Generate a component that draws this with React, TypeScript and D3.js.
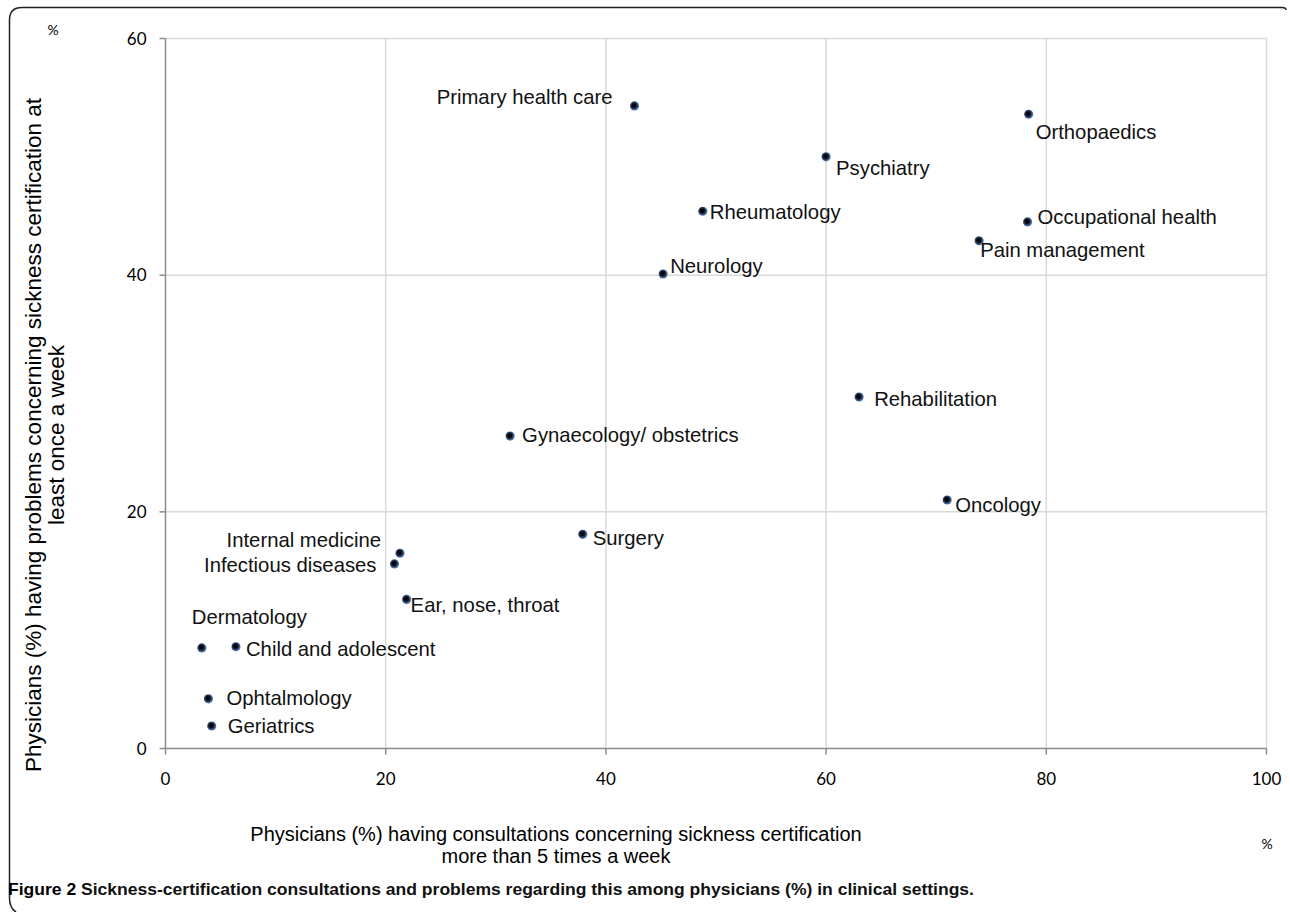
import { scaleLinear } from "d3";

// specialities
const specialties = [
  "Primary health care",
  "Orthopaedics",
  "Psychiatry",
  "Rheumatology",
  "Occupational health",
  "Pain management",
  "Neurology",
  "Rehabilitation",
  "Gynaecology/ obstetrics",
  "Oncology",
  "Surgery",
  "Internal medicine",
  "Infectious diseases",
  "Ear, nose, throat",
  "Dermatology",
  "Child and adolescent",
  "Ophtalmology",
  "Geriatrics",
];
// % having consultations > 5 times a week
const consultations = [42.6, 78.4, 60.0, 48.8, 78.3, 73.9, 45.2, 63.0, 31.3, 71.0, 37.9, 21.3, 20.8, 21.9, 3.3, 6.4, 3.9, 4.2];
// % having problems at least once a week
const problems = [54.3, 53.6, 50.0, 45.4, 44.5, 42.9, 40.1, 29.7, 26.4, 21.0, 18.1, 16.5, 15.6, 12.6, 8.5, 8.6, 4.2, 1.9];

const xTicks = [0, 20, 40, 60, 80, 100];
const yTicks = [0, 20, 40, 60];

// label placement next to each dot: [dx, dy, anchor]
const labelPlace: [number, number, string][] = [
  [-22, -2, "end"],
  [7, 25, "start"],
  [10, 18, "start"],
  [7, 8, "start"],
  [10, 2, "start"],
  [1, 16, "start"],
  [7, -1, "start"],
  [15, 9, "start"],
  [12, 6, "start"],
  [8, 12, "start"],
  [10, 11, "start"],
  [-19, -6, "end"],
  [-18, 8, "end"],
  [4, 13, "start"],
  [-10, -24, "start"],
  [10, 9, "start"],
  [18, 6, "start"],
  [16, 7, "start"],
];

const W = 1290;
const H = 912;
const left = 165.5;
const right = 1266.5;
const top = 38.5;
const bottom = 748.5;

const x = scaleLinear().domain([0, 100]).range([left, right]);
const y = scaleLinear().domain([0, 60]).range([bottom, top]);

const labelFont = "'Liberation Sans', Arial, sans-serif";
const tickFont = "Lato, 'Open Sans', sans-serif";

export default function App() {
  return (
    <svg
      width={W}
      height={H}
      style={{ position: "absolute", left: 0, top: 0, background: "#fff" }}
    >
      <defs>
        <radialGradient id="dot" cx="45%" cy="45%" r="55%">
          <stop offset="0%" stopColor="#000" />
          <stop offset="40%" stopColor="#0a0a14" />
          <stop offset="100%" stopColor="#5a8bc8" />
        </radialGradient>
      </defs>

      {/* frame */}
      <path
        d="M1286,10 Q1286,7.5 1282,7.5 L22,7.5 Q9.5,7.5 9.5,20 L9.5,898 Q9.5,908 16,912"
        fill="none"
        stroke="#222"
        strokeWidth={1.5}
      />

      {/* grid */}
      {xTicks.slice(1).map((t) => (
        <line key={"gx" + t} x1={x(t)} x2={x(t)} y1={top} y2={bottom} stroke="#d9d9d9" strokeWidth={1.5} />
      ))}
      {yTicks.slice(1).map((t) => (
        <line key={"gy" + t} x1={left} x2={right} y1={y(t)} y2={y(t)} stroke="#d9d9d9" strokeWidth={1.5} />
      ))}

      {/* axes */}
      <line x1={left} x2={left} y1={top} y2={bottom} stroke="#8c8c8c" strokeWidth={1.5} />
      <line x1={left} x2={right} y1={bottom} y2={bottom} stroke="#8c8c8c" strokeWidth={1.5} />
      {yTicks.map((t) => (
        <g key={"yt" + t}>
          <line x1={left - 6} x2={left} y1={y(t)} y2={y(t)} stroke="#8c8c8c" strokeWidth={1.5} />
          <text x={left - 19} y={y(t) + 6} textAnchor="end" fontFamily={tickFont} fontSize={17} fill="#000">
            {t}
          </text>
        </g>
      ))}
      {xTicks.map((t) => (
        <g key={"xt" + t}>
          <line x1={x(t)} x2={x(t)} y1={bottom} y2={bottom + 6} stroke="#8c8c8c" strokeWidth={1.5} />
          <text x={x(t)} y={bottom + 36} textAnchor="middle" fontFamily={tickFont} fontSize={17} fill="#000">
            {t}
          </text>
        </g>
      ))}

      {/* unit marks */}
      <text x={53} y={35} textAnchor="middle" fontFamily={tickFont} fontSize={14} fill="#000">%</text>
      <text x={1267} y={849} textAnchor="middle" fontFamily={tickFont} fontSize={14} fill="#000">%</text>

      {/* axis titles */}
      <g transform="translate(41,435) rotate(-90)" fontFamily={labelFont} fontSize={22.5} fill="#000">
        <text x={0} y={0} textAnchor="middle">
          Physicians (%) having problems concerning sickness certification at
        </text>
        <text x={0} y={23} textAnchor="middle">least once a week</text>
      </g>
      <g fontFamily={labelFont} fontSize={20} fill="#000">
        <text x={556} y={841} textAnchor="middle">
          Physicians (%) having consultations concerning sickness certification
        </text>
        <text x={556} y={863} textAnchor="middle">more than 5 times a week</text>
      </g>

      {/* points */}
      {specialties.map((name, i) => {
        const [dx, dy, anchor] = labelPlace[i];
        const cx = x(consultations[i]);
        const cy = y(problems[i]);
        return (
          <g key={name}>
            <circle cx={cx} cy={cy} r={4.6} fill="url(#dot)" />
            <text
              x={cx + dx}
              y={cy + dy}
              textAnchor={anchor as any}
              fontFamily={labelFont}
              fontSize={20.3}
              fill="#111"
            >
              {name}
            </text>
          </g>
        );
      })}

      {/* caption */}
      <text x={8} y={895} fontFamily={labelFont} fontSize={16.5} fontWeight="bold" fill="#111" textLength={966} lengthAdjust="spacingAndGlyphs">
        <tspan fill="#000">Figure 2</tspan> Sickness-certification consultations and problems regarding this among physicians (%) in clinical settings.
      </text>
    </svg>
  );
}
